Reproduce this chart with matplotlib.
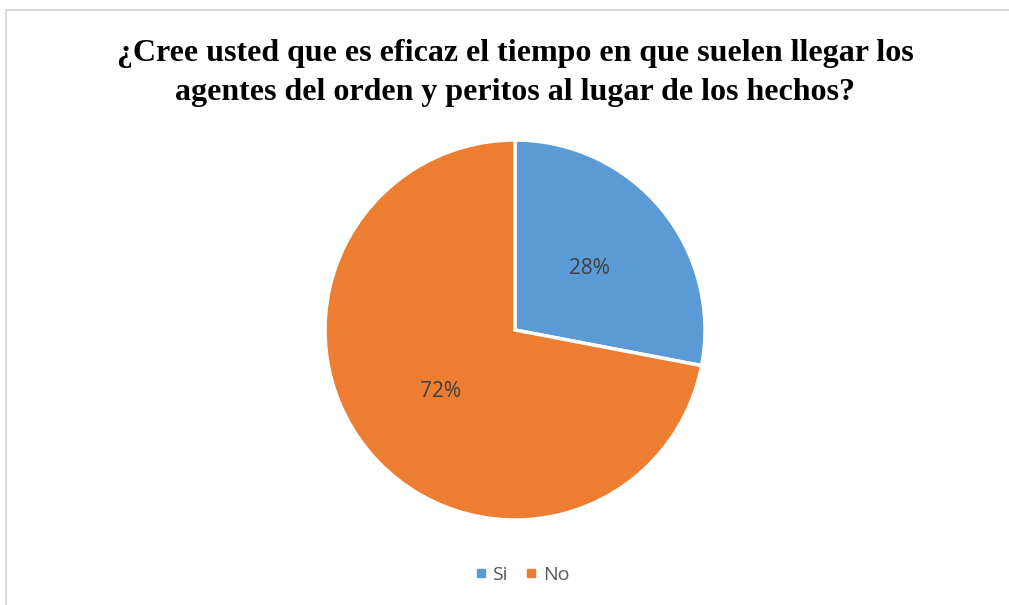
import matplotlib.pyplot as plt
from matplotlib.lines import Line2D
from matplotlib.patches import Rectangle

# data
categorias = ['Si', 'No']
valores = [28, 72]
colores = ['#5B9BD5', '#ED7D31']
titulo = u'\u00bfCree usted que es eficaz el tiempo en que suelen llegar los\nagentes del orden y peritos al lugar de los hechos?'

W, H = 1009, 605
fig = plt.figure(figsize=(W / 100, H / 100), dpi=100)

# chart border (light gray, cut off at right/bottom)
fig.patches.append(Rectangle((6 / W, -0.1), 1.2, (H - 10) / H + 0.1, transform=fig.transFigure,
                             fill=False, edgecolor='#D9D9D9', linewidth=1.5))

# pie axes: centre (515, 330) px, radius 190 px
cx, cy, r = 515, 330, 190
ax = fig.add_axes([(cx - r) / W, (H - cy - r) / H, 2 * r / W, 2 * r / H])
wedges, texts, autotexts = ax.pie(valores, colors=colores, startangle=90, counterclock=False,
                                  autopct='%1.0f%%', pctdistance=0.51,
                                  wedgeprops=dict(edgecolor='white', linewidth=2.5),
                                  textprops=dict(color='#404040', fontsize=15, family='Open Sans'))
ax.set_xlim(-1, 1)
ax.set_ylim(-1, 1)
ax.set_aspect('equal')
ax.axis('off')

fig.text(515 / W, 1 - 73 / H, titulo, ha='center', va='center', fontsize=23,
         fontweight='bold', family='Liberation Serif', linespacing=1.42)

handles = [Line2D([], [], marker='s', linestyle='none', markersize=5.5, color=c) for c in colores]
fig.legend(handles, categorias, loc='center', bbox_to_anchor=(520 / W, 1 - 575 / H), ncol=2,
           frameon=False, prop=dict(family='Open Sans', size=14), handletextpad=0.1,
           columnspacing=0.7, handlelength=1.0, labelcolor='#595959')

fig.savefig('out.png', dpi=100)
